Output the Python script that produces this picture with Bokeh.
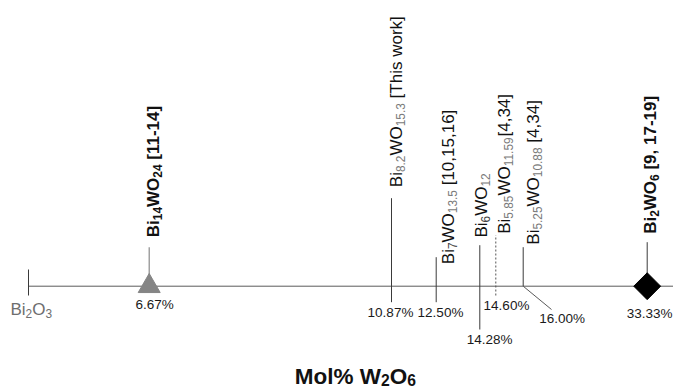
import math
from bokeh.plotting import figure
from bokeh.models import ColumnDataSource, Range1d
from bokeh.embed import file_html
from bokeh.resources import INLINE
from bokeh.core.properties import value

# ---------------- data ----------------
pct_values = [0.0, 6.67, 10.87, 12.50, 14.28, 14.60, 16.00, 33.33]
pct_labels = ["", "6.67%", "10.87%", "12.50%", "14.28%", "14.60%", "16.00%", "33.33%"]
bi_sub = ["14", "8.2", "7", "6", "5.85", "5.25", "2"]
o_sub = ["24", "15.3", "13.5", "12", "11.59", "10.88", "6"]
refs = [" [11-14]", " [This work]", " [10,15,16]", "", "[4,34]", " [4,34]", " [9, 17-19]"]
bold_label = [True, False, False, False, False, False, True]
axis_title = ["Mol% W", "2", "O", "6"]
end_member = ["Bi", "2", "O", "3"]

# schematic (non-linear) position of each composition along the diagram axis
axis_pos = [0, 120.7, 363, 407.7, 451.3, 467.3, 494.7, 618.7]

# ---------------- layout / style ----------------
W, H = 673, 390
X0, Y0 = 28, 285.7
FONT = "Liberation Sans"
MAIN_PX = 17
SUB_K = 0.7
PCT_PX = 13.5

line_top = [16.7, 39, 88, 29, 41, 51, 39, 44]
line_bot = [-9.3, 0, -16, -16, -43.3, -9.3, 0, 0]
label_dx = [4.6, 5.0, 12.0, 1.7, 8.7, 10.3, 3.3]
label_y0 = [49, 99, 22, 48.7, 52.4, 41.5, 52.4]
pct_dx = [0, 5.5, -1, 4.3, 9.9, 10.7, 39, 2.5]
pct_y = [0, -18.6, -26, -26, -53.6, -19.3, -32.6, -27.6]

REG = {' ': 278, '%': 889, ',': 278, '-': 333, '.': 278, '[': 278, ']': 278,
       'B': 667, 'O': 778, 'T': 611, 'W': 944, 'M': 833, 'h': 556, 'i': 222,
       'k': 500, 'l': 222, 'o': 556, 'r': 333, 's': 500, 'w': 722}
BOLD = {' ': 278, '%': 889, ',': 278, '-': 333, '.': 278, '[': 333, ']': 333,
        'B': 722, 'O': 778, 'W': 944, 'M': 833, 'i': 278, 'l': 278, 'o': 611}


def tw(s, size, bold):
    t = BOLD if bold else REG
    return sum(t.get(c, 556) for c in s) * size / 1000.0


p = figure(width=W, height=H, output_backend="svg", toolbar_location=None,
           x_range=Range1d(-X0, W - X0), y_range=Range1d(Y0 - H, Y0),
           min_border=0, x_axis_type=None, y_axis_type=None)
p.grid.visible = False
p.outline_line_color = None
p.background_fill_color = "white"
p.border_fill_color = "white"

# main axis line
p.segment(x0=[axis_pos[0]], y0=[0], x1=[W], y1=[0], line_color="#5a5a5a", line_width=1)

# vertical lines
solid = [0, 2, 3, 4, 6, 7]
p.segment(x0=[axis_pos[i] for i in solid], x1=[axis_pos[i] for i in solid],
          y0=[line_bot[i] for i in solid], y1=[line_top[i] for i in solid],
          line_color="#3a3a3a", line_width=1)
p.segment(x0=[axis_pos[1]], x1=[axis_pos[1]], y0=[line_bot[1]], y1=[line_top[1]],
          line_color="#8a8a8a", line_width=1.2)
p.segment(x0=[axis_pos[5]], x1=[axis_pos[5]], y0=[line_bot[5]], y1=[line_top[5]],
          line_color="#555555", line_width=1, line_dash="2 2")
# leader of 16.00 %
p.segment(x0=[axis_pos[6]], y0=[0], x1=[axis_pos[6] + pct_dx[6] - 10.7], y1=[-23.3],
          line_color="#5a5a5a", line_width=1)

# markers
p.scatter(x=[axis_pos[1]], y=[0], marker="triangle", size=22,
          fill_color="#858585", line_color="#858585")
p.scatter(x=[axis_pos[7]], y=[0], marker="square", size=19, angle=math.pi / 4,
          fill_color="black", line_color="black")

# ---- rotated composition labels, composed from segments ----
seg = dict(x=[], y=[], text=[], size=[], style=[], color=[])
for i in range(7):
    b = bold_label[i]
    main_c = "#111111"
    sub_c = "#111111" if b else ("#444444" if len(bi_sub[i]) == 1 else "#7a7a7a")
    sub_c2 = "#111111" if b else "#7a7a7a"
    parts = [("Bi", False, main_c), (bi_sub[i], True, sub_c), ("WO", False, main_c),
             (o_sub[i], True, sub_c2), (refs[i], False, main_c)]
    bx = axis_pos[i + 1] + label_dx[i]
    off = label_y0[i]
    for txt, is_sub, col in parts:
        if not txt:
            continue
        sz = MAIN_PX * SUB_K if is_sub else MAIN_PX
        lead = len(txt) - len(txt.lstrip(" "))
        off += tw(" " * lead, sz, b)
        body = txt.lstrip(" ")
        seg["x"].append(bx + (4.0 if is_sub else 0))
        seg["y"].append(off)
        seg["text"].append(body)
        seg["size"].append(f"{sz:.1f}px")
        seg["style"].append("bold" if b else "normal")
        seg["color"].append(col)
        off += tw(body, sz, b)

src = ColumnDataSource(seg)
p.text(x="x", y="y", text="text", source=src, angle=math.pi / 2,
       text_font=value(FONT), text_font_size="size", text_font_style="style",
       text_color="color", text_align="left", text_baseline="alphabetic")

# ---- percentage labels ----
pidx = list(range(1, 8))
p.text(x=[axis_pos[i] + pct_dx[i] for i in pidx], y=[pct_y[i] for i in pidx],
       text=[pct_labels[i] for i in pidx], text_font=value(FONT),
       text_font_size=f"{PCT_PX}px", text_color="#1a1a1a",
       text_align="center", text_baseline="middle")

# ---- Bi2O3 end member label ----
em = dict(x=[], y=[], text=[], size=[], color=[])
xo = axis_pos[0] - 18
for k, t in enumerate(end_member):
    is_sub = k % 2 == 1
    sz = MAIN_PX * SUB_K if is_sub else MAIN_PX
    em["x"].append(xo)
    em["y"].append(-23.5 - (4 if is_sub else 0))
    em["text"].append(t)
    em["size"].append(f"{sz:.1f}px")
    em["color"].append("#6e6e6e")
    xo += tw(t, sz, False)
p.text(x="x", y="y", text="text", source=ColumnDataSource(em), text_font=value(FONT),
       text_font_size="size", text_color="color", text_align="left",
       text_baseline="alphabetic")

# ---- axis title ----
TS = 22.5
parts = [(t, k % 2 == 1) for k, t in enumerate(axis_title)]
total = sum(tw(t, TS * SUB_K if s else TS, True) for t, s in parts)
xo = 327 - total / 2
ti = dict(x=[], y=[], text=[], size=[])
for t, s in parts:
    sz = TS * SUB_K if s else TS
    ti["x"].append(xo)
    ti["y"].append(-90 - (4 if s else 0))
    ti["text"].append(t)
    ti["size"].append(f"{sz:.1f}px")
    xo += tw(t, sz, True)
p.text(x="x", y="y", text="text", source=ColumnDataSource(ti), text_font=value(FONT),
       text_font_size="size", text_font_style="bold", text_color="#111111",
       text_align="left", text_baseline="alphabetic")

open("out.html", "w").write(file_html(p, INLINE))
